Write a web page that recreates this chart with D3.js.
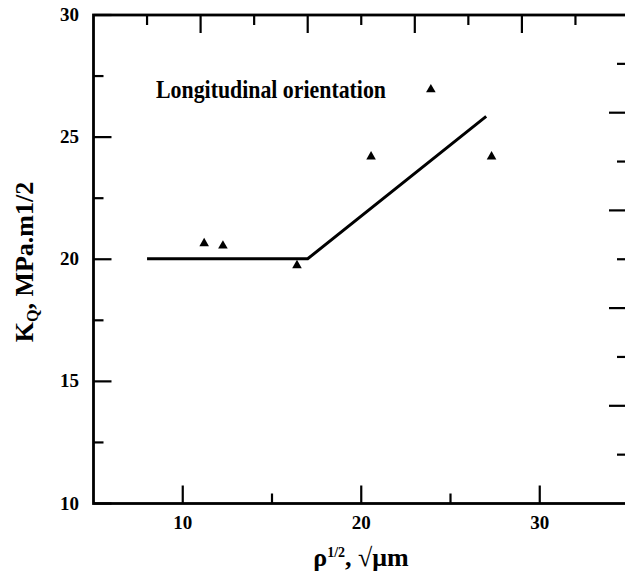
<!DOCTYPE html>
<html><head><meta charset="utf-8">
<script src="https://cdn.jsdelivr.net/npm/d3@7"></script>
<style>body{margin:0;background:#fff;} svg{display:block;} text{font-family:"Liberation Serif","Times New Roman",serif;font-weight:bold;fill:#000;}</style>
</head><body>
<svg id="c" width="625" height="577"></svg>
<script>
const pointX = [11.2, 12.25, 16.4, 20.55, 23.9, 27.3];
const pointY = [20.65, 20.55, 19.75, 24.2, 26.95, 24.2];
const fitX = [8, 17, 27];
const fitY = [20.02, 20.02, 25.85];
const xTicks = [10, 20, 30];
const xMinor = [15, 25];
const yTicks = [10, 15, 20, 25, 30];
const yMinor = [12.5, 17.5, 22.5, 27.5];
const topTicks = [1,2,3,4,5,6,7,8,9];
const rightTicks = [1,2,3,4,5,6,7,8,9];
const label = "Longitudinal orientation";

const svg = d3.select("#c");
const L = 93.5, R = 629, T = 15, B = 503.5;
const x = d3.scaleLinear().domain([5, 35]).range([L, R]);
const y = d3.scaleLinear().domain([10, 30]).range([B, T]);
const xt = d3.scaleLinear().domain([0, 10]).range([L, R]);
const yr = d3.scaleLinear().domain([0, 10]).range([T, B]);
const MAJ = 18, MIN = 10;

const g = svg.append("g");
g.append("rect").attr("x", L).attr("y", T).attr("width", R - L).attr("height", B - T)
  .attr("fill", "none").attr("stroke", "#000").attr("stroke-width", 2.8);

g.selectAll(".bt").data(xTicks.map(v=>({v,l:MAJ})).concat(xMinor.map(v=>({v,l:MIN})))).join("line")
  .attr("x1", d=>x(d.v)).attr("x2", d=>x(d.v)).attr("y1", B).attr("y2", d=>B-d.l)
  .attr("stroke", "#000").attr("stroke-width", 2.2);
g.selectAll(".bl").data(xTicks).join("text")
  .attr("x", d=>x(d)).attr("y", 529).attr("text-anchor", "middle").attr("font-size", 19).text(d=>d);

g.selectAll(".lt").data(yTicks.map(v=>({v,l:MAJ})).concat(yMinor.map(v=>({v,l:MIN})))).join("line")
  .attr("x1", L).attr("x2", d=>L+d.l).attr("y1", d=>y(d.v)).attr("y2", d=>y(d.v))
  .attr("stroke", "#000").attr("stroke-width", 2.2);
g.selectAll(".ll").data(yTicks).join("text")
  .attr("x", 79).attr("y", d=>y(d)+6).attr("text-anchor", "end").attr("font-size", 19).text(d=>d);

g.selectAll(".tt").data(topTicks).join("line")
  .attr("x1", d=>xt(d)).attr("x2", d=>xt(d)).attr("y1", T).attr("y2", d=>T+(d%2===0?MAJ:MIN))
  .attr("stroke", "#000").attr("stroke-width", 2.2);
g.selectAll(".rt").data(rightTicks).join("line")
  .attr("x1", R).attr("x2", d=>R-(d%2===0?MAJ+2:MIN+2)).attr("y1", d=>yr(d)).attr("y2", d=>yr(d))
  .attr("stroke", "#000").attr("stroke-width", 2.2);

g.append("path").datum(fitX.map((v,i)=>[v, fitY[i]]))
  .attr("d", d3.line().x(d=>x(d[0])).y(d=>y(d[1])))
  .attr("fill", "none").attr("stroke", "#000").attr("stroke-width", 3);

g.selectAll(".pt").data(pointX.map((v,i)=>[v, pointY[i]])).join("path")
  .attr("transform", d=>`translate(${x(d[0])},${y(d[1])})`)
  .attr("d", d3.symbol().type(d3.symbolTriangle).size(40)).attr("fill", "#000");

g.append("text").attr("x", 156).attr("y", 98).attr("font-size", 25)
  .attr("textLength", 230).attr("lengthAdjust", "spacingAndGlyphs").text(label);

const yl = g.append("text").attr("transform", "translate(33,262) rotate(-90)")
  .attr("text-anchor", "middle").attr("font-size", 26);
yl.append("tspan").text("K");
yl.append("tspan").attr("font-size", 16).attr("dy", 5).text("Q");
yl.append("tspan").attr("dy", -5).text(", MPa.m1/2");

const xl = g.append("text").attr("x", 361).attr("y", 566).attr("text-anchor", "middle").attr("font-size", 26);
xl.append("tspan").text("ρ");
xl.append("tspan").attr("font-size", 14).attr("dy", -9).text("1/2");
xl.append("tspan").attr("dy", 9).text(", √μm");
</script>
</body></html>
